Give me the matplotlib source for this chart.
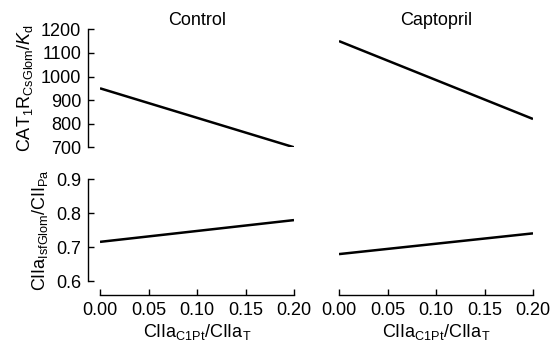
import numpy as np
import matplotlib
matplotlib.use("Agg")
import matplotlib.pyplot as plt

plt.rcParams["font.family"] = ["Liberation Sans", "DejaVu Sans"]
plt.rcParams["mathtext.fontset"] = "custom"
plt.rcParams["mathtext.rm"] = "Liberation Sans"
plt.rcParams["mathtext.it"] = "Liberation Sans:italic"
plt.rcParams["font.size"] = 13

# data
x = [0.0, 0.2]
groups = ["Control", "Captopril"]
cat1_control = [950, 700]
cat1_captopril = [1150, 820]
ciia_control = [0.716, 0.780]
ciia_captopril = [0.680, 0.741]

top_yticks = [700, 800, 900, 1000, 1100, 1200]
bot_yticks = [0.6, 0.7, 0.8, 0.9]
xticks = [0.0, 0.05, 0.10, 0.15, 0.20]

W, H = 551, 343
fig = plt.figure(figsize=(W / 100, H / 100), dpi=100)


def px_axes(x0, x1, ytop, ybot):
    return fig.add_axes([x0 / W, 1 - ybot / H, (x1 - x0) / W, (ybot - ytop) / H])


cols = [(100, 294), (339, 533)]
top_axes = [px_axes(a, b, 29.3, 147.3) for a, b in cols]
bot_axes = [px_axes(a, b, 179.3, 281.3) for a, b in cols]

top_data = [cat1_control, cat1_captopril]
bot_data = [ciia_control, ciia_captopril]

for i in range(2):
    ta, ba = top_axes[i], bot_axes[i]
    ta.plot(x, top_data[i], color="black", lw=1.8, solid_capstyle="butt")
    ba.plot(x, bot_data[i], color="black", lw=1.8, solid_capstyle="butt")
    ta.set_ylim(700, 1200)
    ba.set_ylim(0.6, 0.9)
    for ax in (ta, ba):
        ax.set_xlim(0, 0.2)
        ax.spines["top"].set_visible(False)
        ax.spines["right"].set_visible(False)
        ax.spines["left"].set_position(("outward", 8.6))
        ax.spines["bottom"].set_position(("outward", 10))
        ax.tick_params(direction="in", length=4, width=1, pad=5, labelsize=13)
        for s in ax.spines.values():
            s.set_linewidth(1)
        ax.patch.set_visible(False)
    ta.spines["bottom"].set_visible(False)
    ta.set_xticks([])
    ta.set_title(groups[i], fontsize=13, pad=3)
    ba.set_xticks(xticks)
    ba.set_xticklabels([f"{v:.2f}" for v in xticks])
    ba.set_xlabel(r"CIIa$_{\mathrm{C1Pt}}$/CIIa$_{\mathrm{T}}$", fontsize=13, labelpad=2)
    if i == 0:
        ta.set_yticks(top_yticks)
        ba.set_yticks(bot_yticks)
        ba.set_yticklabels([f"{v:.1f}" for v in bot_yticks])
        ta.set_ylabel(r"CAT$_{\mathrm{1}}$R$_{\mathrm{CsGlom}}$/$K_{\mathrm{d}}$",
                      fontsize=13, labelpad=4)
        ba.set_ylabel(r"CIIa$_{\mathrm{IsfGlom}}$/CII$_{\mathrm{Pa}}$",
                      fontsize=13, labelpad=4)
    else:
        for ax in (ta, ba):
            ax.spines["left"].set_visible(False)
            ax.set_yticks([])

fig.savefig("out.png", dpi=100)
